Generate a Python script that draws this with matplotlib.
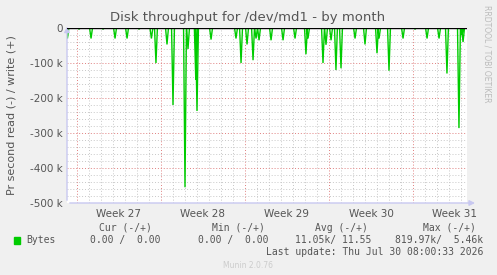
import matplotlib
matplotlib.use("Agg")
import matplotlib.pyplot as plt
from matplotlib.ticker import MultipleLocator, FixedLocator, NullFormatter

# ---- data (days from start of Week 27, read bytes/s in thousands, negative = read) ----
spike_day = [-0.8, 0.17, 1.17, 2.17, 3.17, 4.17, 5.17, 6.2, 6.58, 7.5, 8.0,
             9.0, 9.25, 9.9, 10.0, 11.17, 13.25, 13.67, 14.17, 14.67, 14.92,
             15.17, 16.17, 17.17, 18.17, 19.08, 19.25, 20.5, 20.75, 21.17,
             21.58, 22.0, 23.17, 24.0, 25.0, 25.17, 26.0, 27.17, 28.17,
             29.17, 30.17, 30.83, 31.83, 32.08, 32.17]
spike_val = [-30, -3, -30, -3, -30, -30, -3, -30, -100, -47, -220,
             -455, -60, -148, -237, -33, -30, -100, -47, -92, -30,
             -35, -35, -35, -30, -75, -30, -100, -48, -35,
             -120, -115, -30, -47, -72, -30, -122, -30, -3,
             -30, -30, -130, -286, -20, -40]
week_labels = ["Week 27", "Week 28", "Week 29", "Week 30", "Week 31"]
week_centers = [3.5, 10.5, 17.5, 24.5, 31.5]
ytick_vals = [0, -100, -200, -300, -400, -500]
ytick_labels = ["0", "-100 k", "-200 k", "-300 k", "-400 k", "-500 k"]

legend_headers = ["Cur (-/+)", "Min (-/+)", "Avg (-/+)", "Max (-/+)"]
legend_values = ["0.00 /  0.00", "0.00 /  0.00", "11.05k/ 11.55", "819.97k/  5.46k"]

# build a spike path (zero baseline between spikes)
xs, ys = [], []
w = 0.12
for d, v in zip(spike_day, spike_val):
    xs += [d - w, d, d + w]
    ys += [0, v, 0]

W, H = 497, 275
fig = plt.figure(figsize=(W / 100, H / 100), dpi=100, facecolor="#F0F0F0")
L, R, T, B = 67, 467, 28, 203
ax = fig.add_axes([L / W, 1 - B / H, (R - L) / W, (B - T) / H])
ax.set_facecolor("white")

xmin, xmax = -10 / 12, (R - 77) / 12
ax.set_xlim(xmin, xmax)
ax.set_ylim(-500, 0)

# grid
for d in range(0, 33):
    major = d % 7 == 0
    ax.axvline(d, color="#E08080" if major else "#C8C8C8", lw=0.7,
               ls=(0, (1, 2)), zorder=0.5)
for v in range(-500, 1, 20):
    major = v % 100 == 0
    ax.axhline(v, color="#E08080" if major else "#C8C8C8", lw=0.7,
               ls=(0, (1, 2)), zorder=0.5)

ax.plot(xs, ys, color="#00CC00", lw=1.0, zorder=3, solid_joinstyle="miter")
ax.axhline(0, color="black", lw=1.0, zorder=4)

for s in ax.spines.values():
    s.set_visible(False)
ax.tick_params(length=0, colors="#555555", labelsize=7.5, pad=3)
ax.set_xticks(week_centers)
ax.set_xticklabels(week_labels)
ax.set_yticks(ytick_vals)
ax.set_yticklabels(ytick_labels)
ax.tick_params(axis="x", pad=4)

# axes lines with arrows
axcol = "#C8C8F0"
ax.annotate("", xy=(xmin, 12), xytext=(xmin, -500), annotation_clip=False,
            arrowprops=dict(arrowstyle="-|>", color=axcol, lw=1, mutation_scale=8))
ax.annotate("", xy=(xmax + 0.9, -500), xytext=(xmin, -500), annotation_clip=False,
            arrowprops=dict(arrowstyle="-|>", color=axcol, lw=1, mutation_scale=8))

tc = "#555555"
fig.text(248 / W, 1 - 18 / H, "Disk throughput for /dev/md1 - by month",
         ha="center", va="center", fontsize=9.5, color=tc)
fig.text(12 / W, 1 - 115 / H, "Pr second read (-) / write (+)", rotation=90,
         ha="center", va="center", fontsize=8, color=tc)
fig.text(487 / W, 1 - 5 / H, "RRDTOOL / TOBI OETIKER", rotation=270,
         ha="center", va="top", fontsize=5.5, color="#BBBBBB")

mono = "DejaVu Sans Mono"
hdr_right = [152, 265, 368, 476]
val_right = [161, 268, 371, 483]
for hx, h in zip(hdr_right, legend_headers):
    fig.text(hx / W, 1 - 228 / H, h, ha="right", va="center", family=mono,
             fontsize=7, color=tc)
for vx, v in zip(val_right, legend_values):
    fig.text(vx / W, 1 - 240 / H, v, ha="right", va="center", family=mono,
             fontsize=7, color=tc)
fig.patches.append(plt.Rectangle((14 / W, 1 - 244 / H), 6 / W, 7 / H,
                                 transform=fig.transFigure, color="#00CC00"))
fig.text(26 / W, 1 - 240 / H, "Bytes", ha="left", va="center", family=mono,
         fontsize=7, color=tc)
fig.text(483 / W, 1 - 252 / H, "Last update: Thu Jul 30 08:00:33 2026",
         ha="right", va="center", family=mono, fontsize=7, color=tc)
fig.text(248 / W, 1 - 265 / H, "Munin 2.0.76", ha="center", va="center",
         fontsize=5.5, color="#CCCCCC")

fig.savefig("out.png", dpi=100, facecolor=fig.get_facecolor())
